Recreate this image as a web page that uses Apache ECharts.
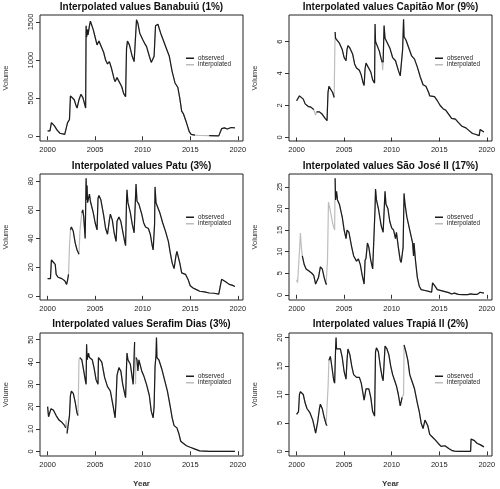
<!DOCTYPE html>
<html>
<head>
<meta charset="utf-8">
<script src="https://cdn.jsdelivr.net/npm/echarts@6/dist/echarts.min.js"></script>
<style>html,body{margin:0;padding:0;background:#fff;}#c{width:500px;height:489px;}</style>
</head>
<body>
<div id="c"></div>
<script>
// ---- data (year, volume) ----
const yearTicks = [2000, 2005, 2010, 2015, 2020];

const banabuiu = [[2000.0,70],[2000.25,72],[2000.4,180],[2000.5,170],[2000.7,140],[2001.0,80],[2001.3,40],[2001.8,25],[2002.0,10],[2002.1,180],[2002.2,200],[2002.3,220],[2002.4,530],[2002.55,540],[2002.8,480],[2003.0,400],[2003.1,370],[2003.3,480],[2003.5,550],[2003.7,510],[2003.9,420],[2004.0,370],[2004.05,1450],[2004.1,1300],[2004.2,1400],[2004.25,1330],[2004.4,1450],[2004.5,1510],[2004.8,1400],[2005.0,1300],[2005.2,1200],[2005.4,1250],[2005.6,1230],[2005.9,1100],[2006.1,1000],[2006.3,950],[2006.5,980],[2006.7,900],[2007.0,750],[2007.1,720],[2007.3,770],[2007.5,750],[2007.8,650],[2008.0,560],[2008.2,520],[2008.3,1150],[2008.4,1250],[2008.6,1200],[2008.9,1050],[2009.1,980],[2009.25,960],[2009.35,1530],[2009.5,1480],[2009.7,1350],[2010.0,1270],[2010.2,1220],[2010.4,1180],[2010.7,1050],[2010.9,970],[2011.1,960],[2011.2,1050],[2011.35,1450],[2011.6,1470],[2011.9,1350],[2012.2,1250],[2012.5,1150],[2012.8,1050],[2013.1,850],[2013.4,700],[2013.7,640],[2013.9,500],[2014.1,330],[2014.3,290],[2014.6,180],[2014.9,60],[2015.1,25],[2015.5,15],[2016.0,10],[2017.0,8],[2018.0,5],[2018.2,10],[2018.3,100],[2018.6,110],[2018.9,95],[2019.1,85],[2019.3,115],[2019.5,130],[2019.7,110]];
const banabuiuInterp = [[2016.0,2016.0]];
const banabuiuTicks = [0, 500, 1000, 1500];

const capitaoMor = [[2000.0,2.3],[2000.2,2.25],[2000.3,2.6],[2000.5,2.55],[2000.7,2.4],[2000.9,2.1],[2001.2,1.95],[2001.5,1.9],[2001.8,1.75],[2002.0,1.4],[2002.1,1.6],[2002.4,1.6],[2002.7,1.45],[2003.0,1.2],[2003.2,1.05],[2003.3,2.8],[2003.4,3.2],[2003.6,3.15],[2003.8,2.8],[2003.95,2.5],[2004.0,4.7],[2004.05,6.6],[2004.1,6.2],[2004.3,6.1],[2004.5,5.9],[2004.8,5.5],[2005.0,5.0],[2005.2,4.8],[2005.3,5.5],[2005.4,5.75],[2005.6,5.6],[2005.9,5.2],[2006.1,4.6],[2006.3,4.35],[2006.6,4.2],[2006.8,3.9],[2007.0,3.4],[2007.1,3.25],[2007.2,4.3],[2007.3,4.65],[2007.5,4.55],[2007.8,4.1],[2008.0,3.6],[2008.2,3.4],[2008.25,7.1],[2008.3,6.0],[2008.5,5.9],[2008.7,5.4],[2008.9,4.9],[2009.0,4.7],[2009.05,4.2],[2009.1,4.7],[2009.2,7.0],[2009.3,6.2],[2009.5,6.1],[2009.8,5.6],[2010.1,5.0],[2010.4,4.8],[2010.7,4.2],[2010.9,3.85],[2011.05,3.8],[2011.15,5.5],[2011.25,7.4],[2011.3,6.3],[2011.5,6.1],[2011.8,5.6],[2012.1,5.1],[2012.4,4.9],[2012.7,4.4],[2013.0,3.8],[2013.3,3.3],[2013.6,3.2],[2013.9,2.8],[2014.0,2.6],[2014.2,2.7],[2014.5,2.55],[2014.8,2.3],[2015.1,2.0],[2015.4,1.8],[2015.7,1.7],[2016.0,1.45],[2016.3,1.2],[2016.7,1.15],[2017.0,0.95],[2017.4,0.7],[2017.8,0.6],[2018.2,0.4],[2018.5,0.25],[2018.8,0.2],[2019.0,0.12],[2019.2,0.12],[2019.3,0.5],[2019.5,0.4],[2019.7,0.35]];
const capitaoMorInterp = [[2002.0,2002.0],[2004.0,2004.0],[2009.05,2009.05]];
const capitaoMorTicks = [0, 2, 4, 6];

const patu = [[2000.0,12],[2000.3,12],[2000.4,25],[2000.6,25.5],[2000.8,22],[2000.9,15],[2001.1,13],[2001.5,12],[2001.8,10.5],[2002.0,8],[2002.1,11],[2002.2,15],[2002.3,35],[2002.4,46],[2002.5,48],[2002.7,45],[2002.9,37],[2003.1,32],[2003.3,29],[2003.4,45],[2003.5,52],[2003.6,58],[2003.7,60],[2003.8,55],[2003.95,40],[2004.0,41],[2004.05,82],[2004.1,67],[2004.15,77],[2004.2,65],[2004.3,68],[2004.4,71],[2004.5,66],[2004.8,58],[2005.0,51],[2005.2,46],[2005.3,68],[2005.4,70],[2005.5,71],[2005.6,67],[2005.9,56],[2006.1,47],[2006.3,43],[2006.5,53],[2006.6,57],[2006.8,53],[2007.0,44],[2007.2,38],[2007.3,52],[2007.5,55],[2007.7,52],[2007.9,45],[2008.1,38],[2008.2,35],[2008.3,66],[2008.35,74],[2008.45,65],[2008.7,58],[2008.9,50],[2009.1,44],[2009.2,45],[2009.3,78],[2009.4,66],[2009.6,64],[2009.9,57],[2010.1,51],[2010.3,48],[2010.6,47],[2010.8,43],[2011.0,35],[2011.1,32],[2011.25,50],[2011.3,76],[2011.4,65],[2011.6,64],[2011.8,58],[2012.1,51],[2012.4,45],[2012.7,38],[2012.9,30],[2013.1,23],[2013.3,19],[2013.4,18],[2013.5,28],[2013.6,31],[2013.8,30],[2013.9,23],[2014.1,16],[2014.3,17],[2014.5,15],[2014.8,11],[2015.0,7],[2015.3,5.5],[2015.6,4.5],[2016.0,3.2],[2016.5,2.8],[2017.0,2.0],[2017.5,1.8],[2018.0,1.2],[2018.2,0.8],[2018.3,11.5],[2018.5,11],[2018.8,9.5],[2019.1,8],[2019.4,7.5],[2019.7,6.5]];
const patuInterp = [[2002.3,2002.3],[2003.4,2003.5]];
const patuTicks = [0, 20, 40, 60, 80];

const saoJose = [[2000.0,3.5],[2000.1,2.8],[2000.3,10],[2000.4,14.3],[2000.5,11],[2000.6,9],[2000.8,7],[2001.0,6],[2001.3,5.5],[2001.6,5],[2001.8,4.5],[2002.0,2.5],[2002.1,2.2],[2002.3,4],[2002.5,6.5],[2002.7,6],[2002.9,4],[2003.1,2.5],[2003.2,2.5],[2003.25,8],[2003.35,21.5],[2003.5,20],[2003.8,16.5],[2004.0,15],[2004.05,27],[2004.1,22],[2004.2,24],[2004.3,22],[2004.5,21],[2004.8,18],[2005.0,15],[2005.2,13],[2005.3,15],[2005.5,14.5],[2005.8,11],[2006.0,9],[2006.3,7.8],[2006.5,8.3],[2006.7,7],[2006.9,4.5],[2007.1,2.5],[2007.2,8],[2007.3,8.5],[2007.45,12],[2007.6,11],[2007.8,8],[2008.0,6],[2008.15,6],[2008.25,20],[2008.3,24.5],[2008.4,22],[2008.6,20],[2008.9,16],[2009.1,14.5],[2009.2,14.5],[2009.3,24],[2009.4,21],[2009.6,20],[2009.8,17],[2010.0,15.5],[2010.2,15],[2010.4,13],[2010.5,14.5],[2010.7,11],[2010.9,8],[2011.0,7.5],[2011.2,11],[2011.3,23.5],[2011.4,21],[2011.6,18],[2011.9,15],[2012.1,13],[2012.2,12],[2012.3,9],[2012.35,12],[2012.5,8],[2012.7,4],[2012.9,2],[2013.1,1.2],[2013.5,1],[2013.9,0.8],[2014.2,0.6],[2014.3,2.8],[2014.5,2.2],[2014.8,1.2],[2015.0,0.9],[2015.5,0.8],[2016.0,0.5],[2016.3,0.2],[2016.6,0.4],[2017.0,0.1],[2017.5,0.05],[2018.0,0.05],[2018.3,0.2],[2018.6,0.1],[2019.0,0.1],[2019.3,0.6],[2019.5,0.5],[2019.7,0.4]];
const saoJoseInterp = [[2000.0,2000.5],[2003.25,2004.0]];
const saoJoseTicks = [0, 5, 10, 15, 20, 25];

const serafimDias = [[2000.0,20],[2000.1,15.5],[2000.3,15.5],[2000.35,19],[2000.6,18.5],[2000.9,16],[2001.2,14],[2001.5,13],[2001.8,11.5],[2001.9,10.5],[2001.95,14],[2002.05,8],[2002.2,13],[2002.3,16],[2002.4,25],[2002.5,27],[2002.7,26],[2002.9,22],[2003.1,17],[2003.2,16],[2003.3,41],[2003.4,42],[2003.6,41],[2003.8,36],[2004.0,31],[2004.05,30],[2004.1,48],[2004.15,41],[2004.3,44],[2004.4,42],[2004.7,41],[2004.9,37],[2005.1,32],[2005.3,30],[2005.35,42],[2005.5,42],[2005.7,40],[2006.0,33],[2006.3,29],[2006.6,27],[2006.9,20],[2007.1,15],[2007.2,23],[2007.3,34],[2007.4,34],[2007.5,37.5],[2007.7,36],[2007.9,30],[2008.1,26],[2008.2,24],[2008.3,38],[2008.35,44],[2008.45,41],[2008.7,39],[2008.9,33],[2009.0,30],[2009.1,30],[2009.15,49],[2009.25,30],[2009.3,42],[2009.4,41],[2009.5,36],[2009.6,41],[2009.9,36],[2010.1,34],[2010.4,30],[2010.7,25],[2010.9,18],[2011.1,15],[2011.2,20],[2011.3,38],[2011.4,43],[2011.45,51],[2011.5,42],[2011.7,41],[2012.0,37],[2012.3,32],[2012.6,27],[2012.9,20],[2013.1,15],[2013.3,11.5],[2013.6,10.5],[2013.8,8],[2014.0,4.5],[2014.3,3.5],[2014.6,2.5],[2015.0,1.8],[2015.5,1],[2016.0,0.2],[2017.0,0],[2018.0,0],[2019.0,0],[2019.7,0]];
const serafimDiasInterp = [[2001.95,2001.95],[2003.3,2003.3],[2009.25,2009.25]];
const serafimDiasTicks = [0, 10, 20, 30, 40, 50];

const trapia = [[2000.0,6.5],[2000.2,7],[2000.3,10],[2000.4,10.5],[2000.7,10],[2000.9,8.5],[2001.1,7.5],[2001.4,6.8],[2001.7,5.5],[2001.9,4],[2002.0,3.2],[2002.2,5],[2002.4,7.5],[2002.5,8.3],[2002.7,7.5],[2002.9,6],[2003.1,4.8],[2003.2,4.5],[2003.3,11],[2003.4,16],[2003.55,16.7],[2003.7,15],[2003.9,12.5],[2004.0,12],[2004.1,18],[2004.15,20],[2004.2,18],[2004.4,18.2],[2004.6,18],[2004.8,16.5],[2005.0,14],[2005.2,12.7],[2005.3,16],[2005.4,18],[2005.6,17],[2005.8,15],[2006.0,13.5],[2006.3,13],[2006.6,13],[2006.8,12],[2007.0,10],[2007.1,9],[2007.3,11],[2007.4,11.3],[2007.6,11],[2007.8,9.5],[2008.0,7],[2008.2,6.2],[2008.3,17.5],[2008.4,18.2],[2008.6,17.5],[2008.8,15],[2009.0,13],[2009.1,12.4],[2009.2,12.6],[2009.3,18.5],[2009.5,18],[2009.7,17],[2009.9,15],[2010.1,13.5],[2010.3,12.5],[2010.5,11.5],[2010.7,10],[2010.9,8],[2011.0,7.7],[2011.1,9.5],[2011.25,10],[2011.3,18.7],[2011.5,17.5],[2011.7,16],[2011.9,13.5],[2012.1,12.5],[2012.4,11],[2012.7,8.5],[2012.9,7],[2013.1,5],[2013.3,4],[2013.5,5.5],[2013.6,5.6],[2013.8,4.5],[2014.0,3],[2014.3,2.5],[2014.6,2.0],[2014.9,1.4],[2015.2,0.9],[2015.4,0.7],[2015.6,1.0],[2015.8,0.8],[2016.0,0.5],[2016.3,0.2],[2016.6,0.05],[2017.0,0],[2018.0,0],[2018.3,0],[2018.35,2.2],[2018.5,2.3],[2018.7,1.9],[2019.0,1.4],[2019.3,1.2],[2019.5,1.0],[2019.7,0.8]];
const trapiaInterp = [[2003.3,2003.3],[2011.25,2011.25]];
const trapiaTicks = [0, 5, 10, 15, 20];

const titles = ['Interpolated values Banabuiú (1%)','Interpolated values Capitão Mor (9%)','Interpolated values Patu (3%)','Interpolated values São José II (17%)','Interpolated values Serafim Dias (3%)','Interpolated values Trapiá II (2%)'];

// ---- layout ----
const panels = [
  {data: banabuiu, interp: banabuiuInterp, ticks: banabuiuTicks, min: -62, max: 1592},
  {data: capitaoMor, interp: capitaoMorInterp, ticks: capitaoMorTicks, min: -0.22, max: 7.66},
  {data: patu, interp: patuInterp, ticks: patuTicks, min: -2.9, max: 85},
  {data: saoJose, interp: saoJoseInterp, ticks: saoJoseTicks, min: -1.2, max: 28},
  {data: serafimDias, interp: serafimDiasInterp, ticks: serafimDiasTicks, min: -2.1, max: 53},
  {data: trapia, interp: trapiaInterp, ticks: trapiaTicks, min: -0.8, max: 20.8}
];
const COLS = [40, 289], W = 203;
const ROWS = [{top: 15, h: 126, tc: 8}, {top: 174, h: 126, tc: 167}, {top: 333, h: 124, tc: 325}];
const FONT = '"Liberation Sans", Arial, Helvetica, sans-serif';

const grid = [], xAxis = [], yAxis = [], series = [], title = [], legend = [];
panels.forEach((p, i) => {
  const col = i % 2, r = ROWS[Math.floor(i / 2)];
  const left = COLS[col];
  const isBottom = Math.floor(i / 2) === 2;
  grid.push({left: left, top: r.top, width: W, height: r.h, show: true, borderColor: '#222', borderWidth: 1, backgroundColor: 'transparent'});
  xAxis.push({
    gridIndex: i, type: 'value', min: 1999.2, max: 2020.55,
    axisLine: {show: false}, splitLine: {show: false},
    axisTick: {show: true, customValues: yearTicks, length: 4, lineStyle: {color: '#333', width: 1}},
    axisLabel: {customValues: yearTicks, fontSize: 7.5, color: '#222', margin: 5, fontFamily: FONT, formatter: v => String(v)},
    name: isBottom ? 'Year' : '', nameLocation: 'middle', nameGap: 24,
    nameTextStyle: {fontSize: 8, fontWeight: 'bold', color: '#333', fontFamily: FONT}
  });
  yAxis.push({
    gridIndex: i, type: 'value', min: p.min, max: p.max,
    axisLine: {show: false}, splitLine: {show: false},
    axisTick: {show: true, customValues: p.ticks, length: 4, lineStyle: {color: '#333', width: 1}},
    axisLabel: {customValues: p.ticks, fontSize: 7.5, color: '#222', margin: 5, rotate: 90, fontFamily: FONT, formatter: v => String(v)},
    name: 'Volume', nameLocation: 'middle', nameGap: 30,
    nameTextStyle: {fontSize: 7.5, color: '#333', fontFamily: FONT}
  });
  const inInterp = x => p.interp.some(iv => x >= iv[0] - 1e-9 && x <= iv[1] + 1e-9);
  series.push({
    name: 'interpolated', type: 'line', xAxisIndex: i, yAxisIndex: i,
    data: p.data, symbol: 'none', showSymbol: false, color: '#bdbdbd',
    lineStyle: {color: '#bdbdbd', width: 1.2}, z: 2, animation: false
  });
  series.push({
    name: 'observed', type: 'line', xAxisIndex: i, yAxisIndex: i,
    data: p.data.map(d => inInterp(d[0]) ? [d[0], null] : d),
    connectNulls: false, symbol: 'none', showSymbol: false, color: '#1c1c1c',
    lineStyle: {color: '#1c1c1c', width: 1.2}, z: 3, animation: false
  });
  title.push({
    text: titles[i], left: left + W / 2, top: r.tc - 6, textAlign: 'center',
    textStyle: {fontSize: 10, fontWeight: 'bold', color: '#111', fontFamily: FONT}, padding: 0
  });
  legend.push({
    left: left + 146, top: r.top + 40, orient: 'vertical', padding: 0,
    itemWidth: 8, itemHeight: 1.5, itemGap: 0, icon: 'rect', selectedMode: false,
    data: ['observed', 'interpolated'],
    textStyle: {fontSize: 6.3, color: '#222', lineHeight: 6.5, fontFamily: FONT, padding: [0, 0, 0, -1]}
  });
});

const chart = echarts.init(document.getElementById('c'), null, {renderer: 'canvas'});
chart.setOption({animation: false, backgroundColor: '#fff', title, legend, grid, xAxis, yAxis, series});
</script>
</body>
</html>
